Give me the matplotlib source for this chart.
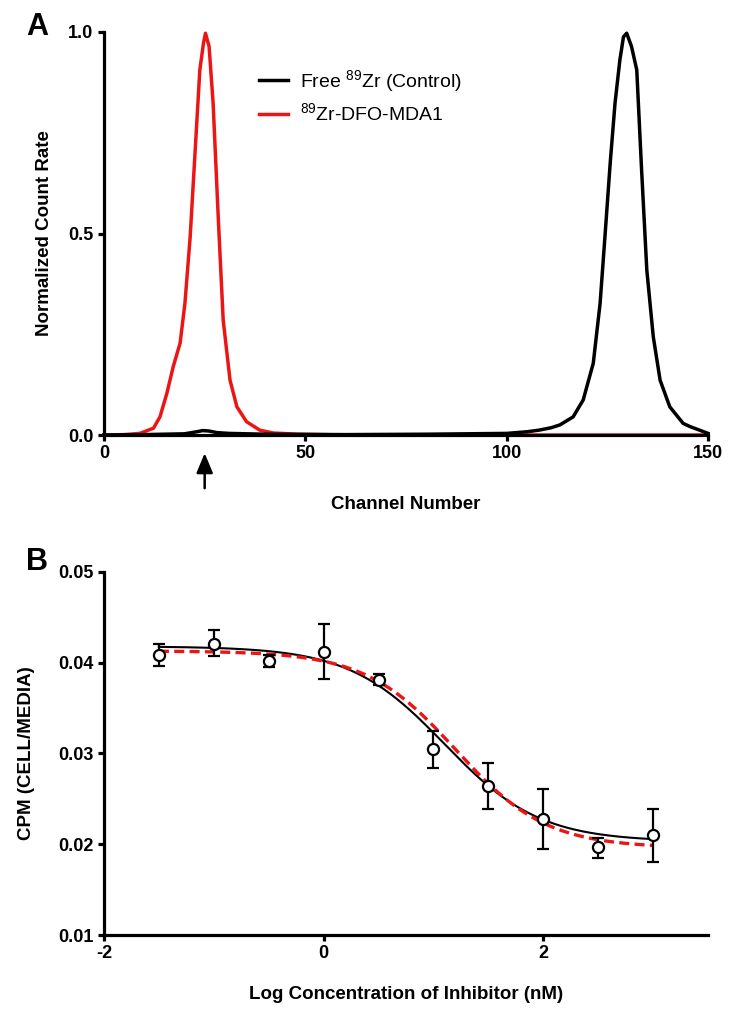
import numpy as np
import matplotlib
matplotlib.use("Agg")
import matplotlib.pyplot as plt

plt.rcParams["font.family"] = ["Liberation Sans", "DejaVu Sans"]
plt.rcParams["axes.unicode_minus"] = False
plt.rcParams["mathtext.default"] = "regular"

# Panel A: radio-chromatogram traces (channel, normalized count rate)
red_channel = [0, 5, 8.9, 12.3, 13.9, 15.6, 17.2, 18.9, 20.1, 21.4, 22.6, 23.8, 24.7, 25.2,
               26.1, 27.1, 28.4, 29.6, 31.3, 33.0, 35.4, 38.7, 42, 48, 60, 100, 150]
red_rate = [0.0, 0.001, 0.004, 0.017, 0.045, 0.103, 0.17, 0.228, 0.327, 0.492, 0.699, 0.906,
            0.972, 0.997, 0.964, 0.823, 0.534, 0.285, 0.136, 0.070, 0.033, 0.012, 0.005,
            0.002, 0.0, 0.0, 0.0]

black_channel = [0, 10, 20, 23, 24.5, 26, 28, 31, 40, 60, 80, 100, 105, 108, 111, 113.2,
                 116.5, 119.0, 121.5, 123.2, 124.4, 125.7, 126.9, 128.1, 129.0, 129.8, 131.0,
                 132.3, 133.5, 134.8, 136.4, 138.1, 140.5, 143.8, 145.5, 147.9, 150]
black_rate = [0.0, 0.001, 0.003, 0.008, 0.011, 0.010, 0.006, 0.004, 0.002, 0.001, 0.002,
              0.004, 0.008, 0.012, 0.018, 0.025, 0.045, 0.087, 0.178, 0.327, 0.492, 0.674,
              0.823, 0.930, 0.988, 0.997, 0.964, 0.906, 0.658, 0.409, 0.244, 0.136, 0.070,
              0.029, 0.021, 0.012, 0.004]

# Panel B: competition binding data
log_conc = [-1.5, -1.0, -0.5, 0.0, 0.5, 1.0, 1.5, 2.0, 2.5, 3.0]
cpm_mean = [0.0409, 0.0421, 0.0402, 0.0412, 0.0381, 0.0305, 0.0264, 0.0228, 0.0197, 0.0210]
cpm_err_hi = [0.0421, 0.0436, 0.0409, 0.0443, 0.0388, 0.0325, 0.0289, 0.0261, 0.0207, 0.0239]
cpm_err_lo = [0.0396, 0.0407, 0.0395, 0.0382, 0.0376, 0.0284, 0.0239, 0.0195, 0.0185, 0.0180]

# sigmoidal fit parameters (top, bottom, logIC50, hill)
fit_black = (0.0418, 0.0203, 1.1, 1.0)
fit_red = (0.0413, 0.0196, 1.2, 1.05)

RED = "#ec1515"


def sigmoid(x, top, bottom, logic50, hill):
    return bottom + (top - bottom) / (1 + 10 ** ((x - logic50) * hill))


def style_axes(ax):
    for side in ("top", "right"):
        ax.spines[side].set_visible(False)
    for side in ("left", "bottom"):
        ax.spines[side].set_linewidth(2.3)
    ax.tick_params(width=2.3, length=4.5, labelsize=13, direction="out", pad=3)
    for lab in ax.get_xticklabels() + ax.get_yticklabels():
        lab.set_fontweight("bold")


fig = plt.figure(figsize=(7.36, 10.19), dpi=100)

axA = fig.add_axes([0.1413, 0.5731, 0.8207, 0.3955])
axA.plot(black_channel, black_rate, color="black", lw=2.5, label="Free $^{89}$Zr (Control)",
         clip_on=False, zorder=3, solid_joinstyle="round")
axA.plot(red_channel, red_rate, color=RED, lw=2.5, label="$^{89}$Zr-DFO-MDA1",
         clip_on=False, zorder=2, solid_joinstyle="round")
axA.set_xlim(0, 150)
axA.set_ylim(0, 1.0)
axA.set_xticks([0, 50, 100, 150])
axA.set_yticks([0.0, 0.5, 1.0])
axA.set_yticklabels(["0.0", "0.5", "1.0"])
axA.set_xlabel("Channel Number", fontsize=13.5, fontweight="bold", labelpad=24)
axA.set_ylabel("Normalized Count Rate", fontsize=13.5, fontweight="bold", labelpad=11)
style_axes(axA)
axA.legend(loc="upper left", bbox_to_anchor=(0.243, 0.93), frameon=False,
           fontsize=14, handlelength=1.5, handletextpad=0.65, labelspacing=0.45,
           borderaxespad=0)
axA.annotate("", xy=(25, -0.045), xytext=(25, -0.132), xycoords="data",
             arrowprops=dict(arrowstyle="-|>,head_width=0.5,head_length=1.2",
                             color="black", lw=1.8, shrinkA=0, shrinkB=0),
             annotation_clip=False)
fig.text(0.050, 0.9735, "A", fontsize=22, fontweight="bold", ha="center", va="center")

axB = fig.add_axes([0.1413, 0.0824, 0.8207, 0.3563])
xs = np.linspace(min(log_conc), max(log_conc), 300)
axB.plot(xs, sigmoid(xs, *fit_black), color="black", lw=1.5, zorder=2)
axB.plot(xs, sigmoid(xs, *fit_red), color=RED, lw=2.4, ls=(0, (3, 1.6)), zorder=3)
yerr = [np.array(cpm_mean) - np.array(cpm_err_lo), np.array(cpm_err_hi) - np.array(cpm_mean)]
axB.errorbar(log_conc, cpm_mean, yerr=yerr, fmt="o", mfc="white", mec="black", mew=1.6,
             ms=8, ecolor="black", elinewidth=1.6, capsize=4.5, capthick=1.6, zorder=4)
axB.set_xlim(-2, 3.5)
axB.set_ylim(0.01, 0.05)
axB.set_xticks([-2, 0, 2])
axB.set_yticks([0.01, 0.02, 0.03, 0.04, 0.05])
axB.set_yticklabels(["0.01", "0.02", "0.03", "0.04", "0.05"])
axB.set_xlabel("Log Concentration of Inhibitor (nM)", fontsize=13.5, fontweight="bold",
               labelpad=17)
axB.set_ylabel("CPM (CELL/MEDIA)", fontsize=13.5, fontweight="bold", labelpad=17)
style_axes(axB)
fig.text(0.050, 0.4485, "B", fontsize=22, fontweight="bold", ha="center", va="center")

fig.savefig("out.png", dpi=100)
